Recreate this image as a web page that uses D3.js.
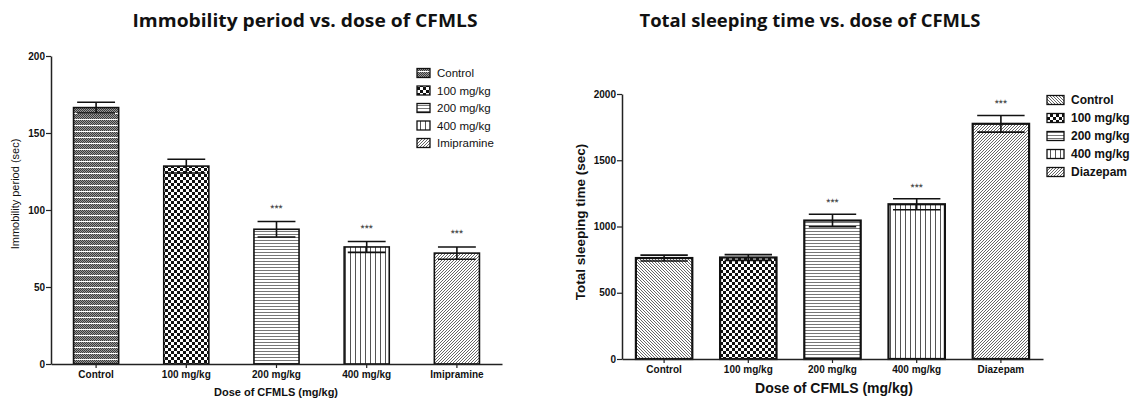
<!DOCTYPE html>
<html><head><meta charset="utf-8">
<script src="https://cdn.jsdelivr.net/npm/d3@7"></script>
<style>body{margin:0;background:#fff}svg{display:block}</style>
</head><body>
<svg id="c" width="1133" height="400"></svg>
<script>
// ---- data ----
const immCategories = ["Control","100 mg/kg","200 mg/kg","400 mg/kg","Imipramine"];
const immMeans = [166.5, 128.5, 87.5, 76, 72];
const immSem = [3.5, 4.5, 5, 3.5, 4];
const immSig = ["", "", "***", "***", "***"];
const immTicks = [0, 50, 100, 150, 200];

const sleepCategories = ["Control","100 mg/kg","200 mg/kg","400 mg/kg","Diazepam"];
const sleepMeans = [762, 766, 1045, 1168, 1775];
const sleepSem = [22, 22, 47, 42, 63];
const sleepSig = ["", "", "***", "***", "***"];
const sleepTicks = [0, 500, 1000, 1500, 2000];

const svg = d3.select("#c");
const defs = svg.append("defs");

// ---- patterns ----
function pat(id, w, h, draw){
  const p = defs.append("pattern").attr("id", id).attr("patternUnits","userSpaceOnUse")
    .attr("width", w).attr("height", h);
  p.append("rect").attr("width", w).attr("height", h).attr("fill","#fff");
  draw(p);
}
// fine grey checker with white horizontal stripes
pat("pCtrlL", 2, 6, p=>{
  p.append("rect").attr("x",0).attr("y",0).attr("width",2).attr("height",5).attr("fill","#9a9a9a");
  [[0,0],[1,1],[0,2],[1,3],[0,4]].forEach(([a,b])=>
    p.append("rect").attr("x",a).attr("y",b).attr("width",1).attr("height",1).attr("fill","#3a3a3a"));
});
// checkerboard
pat("pCheck", 6, 6, p=>{
  p.append("rect").attr("x",0).attr("y",0).attr("width",3).attr("height",3).attr("fill","#111");
  p.append("rect").attr("x",3).attr("y",3).attr("width",3).attr("height",3).attr("fill","#111");
});
// horizontal lines
pat("pHoriz", 4, 3, p=>{
  p.append("rect").attr("x",0).attr("y",0).attr("width",4).attr("height",1).attr("fill","#777");
});
// vertical lines
pat("pVert", 5, 4, p=>{
  p.append("rect").attr("x",0).attr("y",0).attr("width",1).attr("height",4).attr("fill","#555");
});
// diagonal "/"
pat("pDiagF", 3, 3, p=>{
  p.append("path").attr("d","M-1,1 L1,-1 M0,3 L3,0 M2,4 L4,2").attr("stroke","#555").attr("stroke-width",0.9);
});
// diagonal "\"
pat("pDiagB", 3, 3, p=>{
  p.append("path").attr("d","M-1,2 L1,4 M0,0 L3,3 M2,-1 L4,1").attr("stroke","#555").attr("stroke-width",0.9);
});

const immFills = ["url(#pCtrlL)","url(#pCheck)","url(#pHoriz)","url(#pVert)","url(#pDiagF)"];
const sleepFills = ["url(#pDiagB)","url(#pCheck)","url(#pHoriz)","url(#pVert)","url(#pDiagF)"];

function chart(o){
  const g = svg.append("g");
  const x = d3.scaleBand().domain(o.cats).range([o.x0, o.x1]).paddingInner(o.pad).paddingOuter(o.pad/2);
  const y = d3.scaleLinear().domain([0, o.max]).range([o.y0, o.y1]);
  const bw = x.bandwidth();

  // bars
  g.selectAll("rect.bar").data(o.cats).join("rect")
    .attr("x", d=>x(d)).attr("y", (d,i)=>y(o.means[i]))
    .attr("width", bw).attr("height", (d,i)=>y(0)-y(o.means[i]))
    .attr("fill", (d,i)=>o.fills[i]).attr("stroke","#111").attr("stroke-width", o.bsw);

  // error bars
  const cap = bw*0.42;
  o.cats.forEach((c,i)=>{
    const cx = x(c)+bw/2;
    const hi = y(o.means[i]+o.sem[i]), lo = y(o.means[i]-o.sem[i]);
    g.append("line").attr("x1",cx).attr("x2",cx).attr("y1",hi).attr("y2",lo)
      .attr("stroke","#111").attr("stroke-width",1.6);
    g.append("line").attr("x1",cx-cap).attr("x2",cx+cap).attr("y1",hi).attr("y2",hi)
      .attr("stroke","#111").attr("stroke-width",1.6);
    g.append("line").attr("x1",cx-cap).attr("x2",cx+cap).attr("y1",lo).attr("y2",lo)
      .attr("stroke","#111").attr("stroke-width",1.6);
    if(o.sig[i]) g.append("text").attr("x",cx).attr("y",hi-o.sigOff)
      .attr("text-anchor","middle").attr("font-family","Liberation Sans, Arial").attr("font-size",10.5).attr("fill","#333")
      .style("text-rendering","geometricPrecision")
      .text(o.sig[i]);
  });

  // axes
  const ya = g.append("g").attr("transform",`translate(${o.x0},0)`)
    .call(d3.axisLeft(y).tickValues(o.ticks).tickFormat(d3.format("d")).tickSize(5).tickSizeOuter(0).tickPadding(1));
  ya.select(".domain").attr("stroke","#222").attr("stroke-width",1.5);
  ya.selectAll(".tick line").attr("stroke","#222").attr("stroke-width",1.2);
  ya.selectAll("text").attr("font-family","Liberation Sans, Arial").attr("font-weight","bold")
    .attr("font-size",o.tickFs).attr("fill","#111");

  const xa = g.append("g").attr("transform",`translate(0,${o.y0})`)
    .call(d3.axisBottom(x).tickSize(4).tickSizeOuter(0).tickPadding(3));
  xa.select(".domain").attr("stroke","#222").attr("stroke-width",1.5);
  xa.selectAll(".tick line").attr("stroke","#222").attr("stroke-width",1.2);
  xa.selectAll("text").attr("font-family","Liberation Sans, Arial").attr("font-weight","bold")
    .attr("font-size",o.tickFs).attr("fill","#111");

  // axis titles
  g.append("text").attr("x", o.xlx).attr("y", o.xly).attr("text-anchor","middle")
    .attr("font-family","Liberation Sans, Arial").attr("font-weight","bold").attr("font-size",o.xlFs).attr("fill","#111")
    .text("Dose of CFMLS (mg/kg)");
  g.append("text").attr("transform",`translate(${o.ylx},${o.yly}) rotate(-90)`).attr("text-anchor","middle")
    .attr("font-family","Liberation Sans, Arial").attr("font-weight",o.ylW).attr("font-size",o.ylFs).attr("fill","#111")
    .text(o.ylabel);

  // title
  g.append("text").attr("x", o.tx).attr("y", 27).attr("text-anchor","middle")
    .attr("font-family","Open Sans, Noto Sans").attr("font-weight","bold").attr("font-size",17).attr("fill","#111")
    .attr("textLength", o.tw).attr("lengthAdjust","spacingAndGlyphs")
    .text(o.title);

  // legend
  o.legCats.forEach((c,i)=>{
    const ly = o.ly + i*o.ls;
    g.append("rect").attr("x",o.lx).attr("y",ly-o.lbh/2).attr("width",o.lbw).attr("height",o.lbh)
      .attr("fill",o.fills[i]).attr("stroke","#111").attr("stroke-width",1.3);
    g.append("text").attr("x",o.lx+o.lbw+7).attr("y",ly).attr("dy","0.35em")
      .attr("font-family","Liberation Sans, Arial").attr("font-weight",o.lW).attr("font-size",o.lFs).attr("fill","#111")
      .text(c);
  });
}

chart({cats: immCategories, means: immMeans, sem: immSem, sig: immSig, ticks: immTicks, max: 200,
  x0: 51, x1: 502, y0: 364, y1: 56, pad: 0.5, bsw: 1.6, fills: immFills, sigOff: 10,
  tickFs: 10, xlx: 276, xly: 396, xlFs: 11, ylx: 19, yly: 194, ylFs: 11, ylW: "normal",
  ylabel: "Immobility period (sec)", tx: 305, tw: 345, title: "Immobility period vs. dose of CFMLS",
  legCats: immCategories, lx: 417, ly: 73, ls: 17.5, lbw: 13, lbh: 9, lFs: 11.5, lW: "normal"});

chart({cats: sleepCategories, means: sleepMeans, sem: sleepSem, sig: sleepSig, ticks: sleepTicks, max: 2000,
  x0: 622, x1: 1043, y0: 359, y1: 94, pad: 0.33, bsw: 2.2, fills: sleepFills, sigOff: 8,
  tickFs: 10, xlx: 834, xly: 393, xlFs: 14, ylx: 585, yly: 222, ylFs: 13.5, ylW: "bold",
  ylabel: "Total sleeping time (sec)", tx: 810, tw: 341, title: "Total sleeping time vs. dose of CFMLS",
  legCats: sleepCategories, lx: 1047, ly: 100, ls: 18, lbw: 17, lbh: 9, lFs: 12, lW: "bold"});
</script>
</body></html>
